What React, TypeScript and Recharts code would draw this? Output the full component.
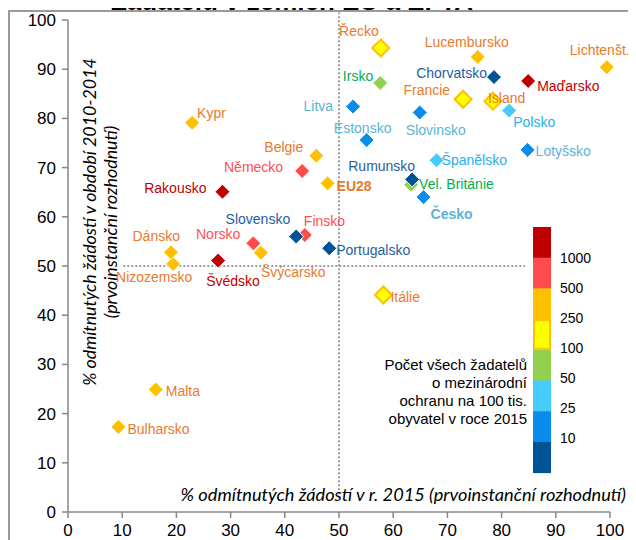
import React from 'react';
import { ScatterChart, Scatter, XAxis, YAxis, ReferenceLine } from 'recharts';

// ---------- DATA ----------
const countries = [
  'Bulharsko', 'Malta', 'Itálie', 'Nizozemsko', 'Dánsko', 'Švédsko', 'Norsko', 'Švýcarsko',
  'Finsko', 'Slovensko', 'Portugalsko', 'Rakousko', 'EU28', 'Německo', 'Belgie', 'Kypr',
  'Vel. Británie', 'Rumunsko', 'Česko', 'Španělsko', 'Lotyšsko', 'Estonsko', 'Litva',
  'Slovinsko', 'Polsko', 'Francie', 'Island', 'Irsko', 'Chorvatsko', 'Maďarsko',
  'Lucembursko', 'Lichtenšt.', 'Řecko',
];
// % rejected applications in 2015 (first instance)
const rejected2015 = [
  9.3, 16.2, 58.2, 19.4, 19.0, 27.7, 34.2, 35.6,
  43.7, 42.1, 48.2, 28.5, 47.9, 43.2, 45.8, 22.9,
  63.3, 63.5, 65.6, 68.0, 84.8, 55.1, 52.6,
  64.9, 81.4, 72.9, 78.4, 57.6, 78.6, 84.9,
  75.6, 99.4, 57.7,
];
// % rejected applications 2010-2014 (first instance)
const rejected2010to2014 = [
  17.3, 24.9, 44.1, 50.4, 52.8, 51.1, 54.6, 52.7,
  56.3, 56.0, 53.6, 65.1, 66.8, 69.3, 72.4, 79.1,
  66.5, 67.6, 64.0, 71.5, 73.6, 75.6, 82.4,
  81.2, 81.6, 83.9, 83.5, 87.2, 88.4, 87.6,
  92.5, 90.4, 94.3,
];
// applicants per 100k inhabitants in 2015 (band)
const applicantBand = [
  '250-500', '250-500', '100-250', '250-500', '250-500', '>1000', '500-1000', '250-500',
  '500-1000', '<10', '<10', '>1000', '250-500', '500-1000', '250-500', '250-500',
  '50-100', '<10', '10-25', '25-50', '10-25', '10-25', '10-25',
  '10-25', '25-50', '100-250', '100-250', '50-100', '<10', '>1000',
  '250-500', '250-500', '100-250',
];

const xTicks = [0, 10, 20, 30, 40, 50, 60, 70, 80, 90, 100];
const yTicks = [0, 10, 20, 30, 40, 50, 60, 70, 80, 90, 100];
const legendBands = ['>1000', '500-1000', '250-500', '100-250', '50-100', '25-50', '10-25', '<10'];
const legendTickLabels = ['1000', '500', '250', '100', '50', '25', '10'];
const legendTitle = ['Počet všech žadatelů', 'o mezinárodní', 'ochranu na 100 tis.', 'obyvatel v roce 2015'];

const chartTitle = 'Žadatelů v zemích EU a EFTA';
const xTitle = '% odmítnutých žádostí v r. 2015 (prvoinstanční rozhodnutí)';
const yTitle = ['% odmítnutých žádostí v období 2010-2014', '(prvoinstanční rozhodnutí)'];

// ---------- STYLES ----------
const bandFill: Record<string, string> = {
  '>1000': '#C00000',
  '500-1000': '#FF4B4B',
  '250-500': '#FFC000',
  '100-250': '#FFFF00',
  '50-100': '#92D050',
  '25-50': '#47CBFC',
  '10-25': '#0A8CEC',
  '<10': '#005496',
};
const bandLabelColor: Record<string, string> = {
  '>1000': '#C00000',
  '500-1000': '#FF5050',
  '250-500': '#E97A2B',
  '100-250': '#E97A2B',
  '50-100': '#00B050',
  '25-50': '#28B1EC',
  '10-25': '#5AB4D6',
  '<10': '#1F5FA0',
};
// label offset from marker centre: [dx, dy, anchor]
const labelPlacement: Record<string, [number, number, 'start' | 'middle' | 'end']> = {
  'Řecko': [-2, -17, 'end'],
  'Lucembursko': [-11, -15, 'middle'],
  'Lichtenšt.': [-7, -17, 'middle'],
  'Irsko': [-7, -7, 'end'],
  'Chorvatsko': [-7, -4, 'end'],
  'Maďarsko': [9, 5, 'start'],
  'Francie': [-13, -9, 'end'],
  'Island': [-5, -3, 'start'],
  'Litva': [-20, -1, 'end'],
  'Slovinsko': [16, 18, 'middle'],
  'Polsko': [4, 11, 'start'],
  'Kypr': [5, -10, 'start'],
  'Estonsko': [-4, -12, 'middle'],
  'Lotyšsko': [8, 1, 'start'],
  'Belgie': [-13, -9, 'end'],
  'Španělsko': [5, 0, 'start'],
  'Německo': [-19, -4, 'end'],
  'Rumunsko': [3, -13, 'end'],
  'Vel. Británie': [8, -1, 'start'],
  'EU28': [9, 3, 'start'],
  'Česko': [7, 17, 'start'],
  'Rakousko': [-16, -4, 'end'],
  'Slovensko': [-6, -17, 'end'],
  'Finsko': [-1, -14, 'start'],
  'Norsko': [-13, -9, 'end'],
  'Švýcarsko': [0, 19, 'start'],
  'Portugalsko': [7, 2, 'start'],
  'Dánsko': [9, -16, 'end'],
  'Nizozemsko': [-19, 13, 'middle'],
  'Švédsko': [-12, 20, 'start'],
  'Itálie': [7, 2, 'start'],
  'Malta': [10, 2, 'start'],
  'Bulharsko': [9, 2, 'start'],
};
const boldLabels = ['EU28', 'Česko'];

const points = countries.map((name, i) => ({
  name,
  x: rejected2015[i],
  y: rejected2010to2014[i],
  band: applicantBand[i],
}));

const AXIS = '#868686';
const SANS = "'Liberation Sans', Arial, sans-serif";
const TITLE_FONT = "Lato, 'Open Sans', sans-serif";

const Diamond = (props: any) => {
  const { cx, cy, payload } = props;
  if (cx == null || cy == null) return null;
  const hi = payload.band === '100-250';
  const r = hi ? 8.5 : 7.5;
  return (
    <path
      d={`M${cx},${cy - r}L${cx + r},${cy}L${cx},${cy + r}L${cx - r},${cy}Z`}
      fill={bandFill[payload.band]}
      stroke={hi ? '#FFC000' : '#FFFFFF'}
      strokeWidth={hi ? 2 : 1}
    />
  );
};

const PointLabel = (props: any) => {
  const { cx, cy, payload } = props;
  if (cx == null || cy == null) return null;
  const pl = labelPlacement[payload.name] || [8, 0, 'start'];
  return (
    <text
      x={cx + pl[0]}
      y={cy + pl[1]}
      textAnchor={pl[2]}
      dominantBaseline="central"
      fontSize={14}
      fontFamily={SANS}
      fontWeight={boldLabels.includes(payload.name) ? 'bold' : 'normal'}
      fill={bandLabelColor[payload.band]}
    >
      {payload.name}
    </text>
  );
};

export default function App() {
  const segTop = 227;
  const segH = 30.7;
  return (
    <div
      style={{
        position: 'relative',
        width: 636,
        height: 540,
        margin: '-8px 0 0 -8px',
        overflow: 'hidden',
        background: '#fff',
        fontFamily: SANS,
      }}
    >
      <div
        style={{
          position: 'absolute',
          left: 8,
          top: 10,
          width: 700,
          height: 600,
          borderLeft: '2px solid #9a9a9a',
          borderTop: '2px solid #9a9a9a',
          boxSizing: 'border-box',
        }}
      />
      <div style={{ position: 'absolute', left: 0, top: 0 }}>
        <ScatterChart
          width={636}
          height={540}
          margin={{ top: 20, right: 26, bottom: 0, left: 0 }}
          style={{ fontFamily: SANS, overflow: 'visible' }}
        >
          <XAxis
            type="number"
            dataKey="x"
            domain={[0, 100]}
            ticks={xTicks}
            interval={0}
            height={28}
            tickSize={6}
            tickMargin={6}
            tick={{ fill: '#000', fontSize: 17 }}
            axisLine={{ stroke: AXIS, strokeWidth: 1.5 }}
            tickLine={{ stroke: AXIS, strokeWidth: 1.5 }}
          />
          <YAxis
            type="number"
            dataKey="y"
            domain={[0, 100]}
            ticks={yTicks}
            interval={0}
            width={68}
            tickSize={6}
            tickMargin={6}
            tick={{ fill: '#000', fontSize: 17 }}
            axisLine={{ stroke: AXIS, strokeWidth: 1.5 }}
            tickLine={{ stroke: AXIS, strokeWidth: 1.5 }}
          />
          <ReferenceLine
            segment={[{ x: 50, y: 2.8 }, { x: 50, y: 101.5 }]}
            ifOverflow="visible"
            stroke="#7f7f7f"
            strokeWidth={1.5}
            strokeDasharray="2 2"
          />
          <ReferenceLine
            segment={[{ x: 10.2, y: 50 }, { x: 84.3, y: 50 }]}
            ifOverflow="visible"
            stroke="#7f7f7f"
            strokeWidth={1.5}
            strokeDasharray="2 2"
          />
          <Scatter data={points} shape={<Diamond />} isAnimationActive={false} />
          <Scatter data={points} shape={<PointLabel />} isAnimationActive={false} />
        </ScatterChart>
      </div>
      <svg
        width={636}
        height={540}
        style={{ position: 'absolute', left: 0, top: 0, pointerEvents: 'none' }}
      >
        <text x={292} y={10} textAnchor="middle" fontFamily={SANS} fontWeight="bold" fontSize={26} fill="#000">
          {chartTitle}
        </text>
        <text x={626} y={501} textAnchor="end" fontFamily={TITLE_FONT} fontStyle="italic" fontSize={18.2} fill="#000">
          {xTitle}
        </text>
        <text
          x={0}
          y={0}
          transform="translate(96,222) rotate(-90)"
          textAnchor="middle"
          fontFamily={TITLE_FONT}
          fontStyle="italic"
          fontSize={17.8}
          fill="#000"
        >
          {yTitle[0]}
        </text>
        <text
          x={0}
          y={0}
          transform="translate(117,222) rotate(-90)"
          textAnchor="middle"
          fontFamily={TITLE_FONT}
          fontStyle="italic"
          fontSize={17.8}
          fill="#000"
        >
          {yTitle[1]}
        </text>
        {legendBands.map((b, i) => (
          <rect
            key={b}
            x={b === '100-250' ? 534 : 533}
            y={segTop + i * segH + (b === '100-250' ? 1 : 0)}
            width={b === '100-250' ? 16 : 18}
            height={b === '100-250' ? segH - 2 : segH + 0.5}
            fill={bandFill[b]}
            stroke={b === '100-250' ? '#FFC000' : 'none'}
            strokeWidth={2}
          />
        ))}
        {legendTickLabels.map((t, i) => (
          <text key={t} x={560} y={258 + i * 30} dominantBaseline="central" fontSize={14} fontFamily={SANS} fill="#000">
            {t}
          </text>
        ))}
        {legendTitle.map((t, i) => (
          <text key={t} x={527} y={364 + i * 18} textAnchor="end" dominantBaseline="central" fontSize={15} fontFamily={SANS} fill="#000">
            {t}
          </text>
        ))}
      </svg>
    </div>
  );
}
